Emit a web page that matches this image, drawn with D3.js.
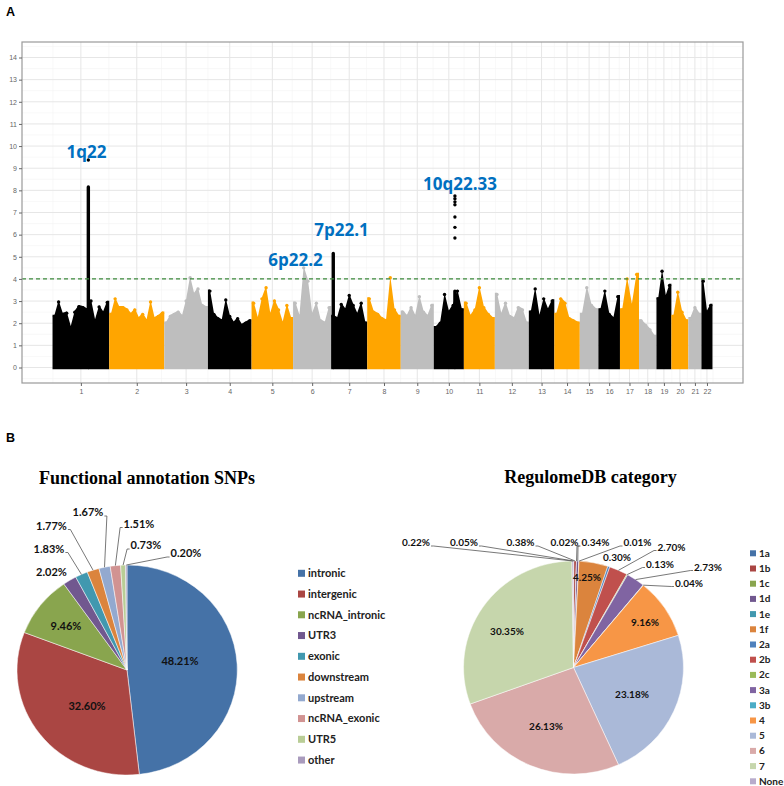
<!DOCTYPE html>
<html>
<head>
<meta charset="utf-8">
<script src="https://cdn.jsdelivr.net/npm/d3@7"></script>
<style>
body { margin: 0; background: #fff; }
svg { display: block; }
</style>
</head>
<body>
<script>
// ---------- A : manhattan plot ----------
var chrNames = ["1","2","3","4","5","6","7","8","9","10","11","12","13","14","15","16","17","18","19","20","21","22"];
// span of the SNPs on each chromosome (Mb)
var chrSpan = [247,240,190,190,181,166,157,146,144,131,135,148,111,111,81,94,83,76,65,74,57,48];
// highest -log10(p) in consecutive windows along each chromosome
var chrBinMax = [
  [2.3,2.96,2.4,2.45,1.8,2.5,2.75,2.7,2.6,3.0,2.1,2.73,2.46,2.94],
  [2.4,3.1,2.7,2.7,2.6,2.4,2.6,2.2,2.4,2.1,2.96,2.2,2.3,2.45],
  [2.0,2.3,2.4,2.5,2.3,3.0,4.05,3.3,3.55,2.8,2.7],
  [3.45,2.4,2.2,2.1,3.05,2.3,2.0,2.2,1.9,2.0,2.1],
  [2.9,2.2,3.1,3.6,2.4,3.0,2.6,2.0,2.8,2.2],
  [2.9,2.3,4.5,3.9,2.4,2.9,2.1,2.0,2.7],
  [2.3,2.2,2.85,2.6,3.25,2.8,2.4,2.9,2.0],
  [3.1,2.5,2.4,2.2,2.1,4.05,2.6,2.3],
  [2.5,2.3,2.7,2.3,3.2,2.5,2.3,2.8],
  [1.8,2.0,3.3,2.5,2.8,3.45,2.6],
  [2.9,2.3,2.6,3.6,2.7,2.4,2.2],
  [3.3,2.4,2.9,2.3,2.2,2.7,2.6,2.0],
  [2.5,3.55,2.3,3.1,2.6,3.0],
  [2.4,3.1,2.9,2.2,2.1,2.0],
  [2.4,3.6,2.8,2.6],
  [2.6,3.45,2.4,2.2,3.2],
  [2.6,4.0,2.8,4.2],
  [2.1,1.9,1.7,1.4],
  [3.1,4.35,3.2,3.7],
  [2.3,3.4,2.5,2.1],
  [2.2,2.7,2.4],
  [3.9,2.5,2.8]
];
// dense runs of SNPs at the associated loci (chr, position Mb, top value)
var peakColumns = [
  {chr: 1, pos: 156, top: 8.15},
  {chr: 7, pos: 9, top: 5.15},
  {chr: 10, pos: 92, top: 3.45}
];
// isolated SNPs above the runs
var peakPoints = [
  {chr: 1, pos: 156, p: 9.37},
  {chr: 10, pos: 92, p: 7.75},
  {chr: 10, pos: 92, p: 7.62},
  {chr: 10, pos: 92, p: 7.48},
  {chr: 10, pos: 92, p: 7.35},
  {chr: 10, pos: 92, p: 6.8},
  {chr: 10, pos: 92, p: 6.33},
  {chr: 10, pos: 92, p: 5.85}
];
var regionLabels = [
  {chr: 1, pos: 148, p: 9.44, text: "1q22"},
  {chr: 6, pos: 10.5, p: 4.58, text: "6p22.2"},
  {chr: 7, pos: 45, p: 5.92, text: "7p22.1"},
  {chr: 10, pos: 114, p: 8.02, text: "10q22.33"}
];
var yTicks = [0,1,2,3,4,5,6,7,8,9,10,11,12,13,14];
var threshold = 4;

// ---------- B : pie charts ----------
var funcCats = ["intronic","intergenic","ncRNA_intronic","UTR3","exonic","downstream","upstream","ncRNA_exonic","UTR5","other"];
var funcPct = [48.21,32.60,9.46,2.02,1.83,1.77,1.67,1.51,0.73,0.20];
var regCats = ["1a","1b","1c","1d","1e","1f","2a","2b","2c","3a","3b","4","5","6","7","None"];
var regPct = [0.05,0.38,0.02,0.34,0.01,4.25,0.30,2.70,0.13,2.73,0.04,9.16,23.18,26.13,30.35,0.22];

var funcColors = ["#4572A7","#AA4643","#89A54E","#71588F","#4198AF","#DB843D","#93A9CF","#D19392","#B9CD96","#A99BBD"];
var regColors = ["#4572A7","#AA4643","#89A54E","#71588F","#4198AF","#DB843D","#4F81BD","#C0504D","#9BBB59","#8064A2","#4BACC6","#F79646","#AAB9D8","#D9AAA9","#C6D6AC","#B8ACCC"];

// label placement (offset of the label centre from the pie centre)
var funcLabelPos = {
  intronic: [53,-9], intergenic: [-40,36], ncRNA_intronic: [-61,-44], UTR3: [-75.5,-97.5],
  exonic: [-78,-121], downstream: [-75.5,-144], upstream: [-39,-157.5],
  ncRNA_exonic: [12,-146], UTR5: [19,-124.5], other: [59,-116.5]
};
var funcLeaders = ["exonic","downstream","upstream","ncRNA_exonic","UTR5","other"];
var regLabelPos = {
  "None": [-157.5,-125], "1a": [-109.5,-125], "1b": [-53,-125], "1c": [-9,-125], "1d": [22,-125],
  "1e": [64,-125], "1f": [13.5,-90.5], "2a": [43.5,-110.5], "2b": [98,-120.5], "2c": [86.5,-103.5],
  "3a": [134.5,-100.5], "3b": [115.5,-84.5], "4": [71.5,-45.5], "5": [58.5,26.5], "6": [-27.5,58.5],
  "7": [-66.5,-36.5]
};
var regLeaders = ["None","1a","1b","1c","1d","1e","2b","2c","3a","3b"];

var svg = d3.select("body").append("svg")
    .attr("width", 784)
    .attr("height", 786);

// ----- manhattan -----
var panel = {x0: 22, x1: 743, y0: 42, y1: 383};
var chrStart = [], acc = 0;
chrSpan.forEach(function(s) { chrStart.push(acc); acc += s; });
var pad = 133;
var x = d3.scaleLinear().domain([-pad, acc + pad]).range([panel.x0, panel.x1]);
var y = d3.scaleLinear().domain([-0.7, 14.7]).range([panel.y1, panel.y0]);
var chrMid = chrSpan.map(function(s, i) { return chrStart[i] + s / 2; });
var chrColors = ["#000000", "#FFA500", "#BEBEBE"];
var r = 1.7;

svg.append("rect")
    .attr("x", panel.x0).attr("y", panel.y0)
    .attr("width", panel.x1 - panel.x0).attr("height", panel.y1 - panel.y0)
    .attr("fill", "#fff");

var grid = svg.append("g");
var minorY = d3.range(-0.5, 15, 1);
grid.selectAll(".hmin").data(minorY).join("line")
    .attr("x1", panel.x0).attr("x2", panel.x1)
    .attr("y1", function(d) { return y(d); }).attr("y2", function(d) { return y(d); })
    .attr("stroke", "#f3f3f3").attr("stroke-width", 0.6);
var minorX = [];
chrMid.forEach(function(m, i) {
  if (i > 0) minorX.push((chrMid[i - 1] + m) / 2);
});
minorX.unshift(chrMid[0] - (chrMid[1] - chrMid[0]) / 2);
minorX.push(chrMid[21] + (chrMid[21] - chrMid[20]) / 2);
grid.selectAll(".vmin").data(minorX.filter(function(d) { return x(d) > panel.x0 && x(d) < panel.x1; })).join("line")
    .attr("y1", panel.y0).attr("y2", panel.y1)
    .attr("x1", function(d) { return x(d); }).attr("x2", function(d) { return x(d); })
    .attr("stroke", "#f3f3f3").attr("stroke-width", 0.6);
grid.selectAll(".hmaj").data(yTicks).join("line")
    .attr("x1", panel.x0).attr("x2", panel.x1)
    .attr("y1", function(d) { return y(d); }).attr("y2", function(d) { return y(d); })
    .attr("stroke", "#e6e6e6").attr("stroke-width", 1);
grid.selectAll(".vmaj").data(chrMid).join("line")
    .attr("y1", panel.y0).attr("y2", panel.y1)
    .attr("x1", function(d) { return x(d); }).attr("x2", function(d) { return x(d); })
    .attr("stroke", "#e6e6e6").attr("stroke-width", 1);

// bulk of the SNPs, one silhouette per chromosome
var area = d3.area()
    .x(function(d) { return x(d.pos); })
    .y0(y(0) + r)
    .y1(function(d) { return y(d.v) - r; });

var marks = svg.append("g");
chrBinMax.forEach(function(arr, i) {
  var w = chrSpan[i] / arr.length;
  var pts = [{pos: chrStart[i], v: arr[0]}];
  arr.forEach(function(v, j) { pts.push({pos: chrStart[i] + (j + 0.5) * w, v: v}); });
  pts.push({pos: chrStart[i] + chrSpan[i], v: arr[arr.length - 1]});
  marks.append("path")
      .attr("d", area(pts))
      .attr("fill", chrColors[i % 3]);
  marks.selectAll(".top" + i).data(pts.slice(1, -1)).join("circle")
      .attr("cx", function(d) { return x(d.pos); })
      .attr("cy", function(d) { return y(d.v); })
      .attr("r", r)
      .attr("fill", chrColors[i % 3]);
});

marks.selectAll(".col").data(peakColumns).join("rect")
    .attr("x", function(d) { return x(chrStart[d.chr - 1] + d.pos) - r; })
    .attr("width", 2 * r)
    .attr("y", function(d) { return y(d.top) - r; })
    .attr("height", function(d) { return y(0) - y(d.top) + 2 * r; })
    .attr("rx", r)
    .attr("fill", function(d) { return chrColors[(d.chr - 1) % 3]; });

marks.selectAll(".pt").data(peakPoints).join("circle")
    .attr("cx", function(d) { return x(chrStart[d.chr - 1] + d.pos); })
    .attr("cy", function(d) { return y(d.p); })
    .attr("r", r)
    .attr("fill", function(d) { return chrColors[(d.chr - 1) % 3]; });

svg.append("line")
    .attr("x1", panel.x0).attr("x2", panel.x1)
    .attr("y1", y(threshold)).attr("y2", y(threshold))
    .attr("stroke", "#3d8b3d").attr("stroke-width", 1.2)
    .attr("stroke-dasharray", "4,3");

svg.append("g").selectAll("text").data(regionLabels).join("text")
    .attr("x", function(d) { return x(chrStart[d.chr - 1] + d.pos); })
    .attr("y", function(d) { return y(d.p); })
    .attr("text-anchor", "middle")
    .attr("font-family", "Open Sans")
    .attr("font-weight", "bold")
    .attr("font-size", 17)
    .attr("fill", "#0070C0")
    .text(function(d) { return d.text; });

svg.append("rect")
    .attr("x", panel.x0).attr("y", panel.y0)
    .attr("width", panel.x1 - panel.x0).attr("height", panel.y1 - panel.y0)
    .attr("fill", "none").attr("stroke", "#9a9a9a").attr("stroke-width", 1.2);

var yAxis = svg.append("g")
    .attr("transform", "translate(" + panel.x0 + ",0)")
    .call(d3.axisLeft(y).tickValues(yTicks).tickSize(3).tickPadding(2));
var xAxis = svg.append("g")
    .attr("transform", "translate(0," + panel.y1 + ")")
    .call(d3.axisBottom(x).tickValues(chrMid).tickSize(3).tickPadding(3)
      .tickFormat(function(d, i) { return chrNames[i]; }));
[yAxis, xAxis].forEach(function(a) {
  a.select(".domain").remove();
  a.selectAll(".tick line").attr("stroke", "#666");
  a.selectAll(".tick text").attr("fill", "#666")
      .attr("font-family", "Liberation Sans").attr("font-size", 7);
});

svg.append("text").attr("x", 6).attr("y", 16)
    .attr("font-family", "Liberation Sans").attr("font-weight", "bold").attr("font-size", 12.5)
    .text("A");
svg.append("text").attr("x", 6).attr("y", 442)
    .attr("font-family", "Liberation Sans").attr("font-weight", "bold").attr("font-size", 12.5)
    .text("B");

// ----- pies -----
function drawPie(o) {
  var arcs = d3.pie().sort(null).value(function(d) { return d; })(o.pct);
  var arc = d3.arc().innerRadius(0).outerRadius(1);
  var g = svg.append("g")
      .attr("transform", "translate(" + o.cx + "," + o.cy + ") scale(" + o.rx + "," + o.ry + ")");
  g.selectAll("path").data(arcs).join("path")
      .attr("d", arc)
      .attr("fill", function(d, i) { return o.colors[i]; })
      .attr("stroke", "#fff")
      .attr("stroke-width", 0.5)
      .attr("vector-effect", "non-scaling-stroke");

  var lab = svg.append("g");
  arcs.forEach(function(a, i) {
    var cat = o.cats[i], p = o.layout[cat];
    var tx = o.cx + p[0], ty = o.cy + p[1];
    var t = lab.append("text")
        .attr("x", tx).attr("y", ty).attr("dy", "0.35em")
        .attr("text-anchor", "middle")
        .attr("font-family", "Lato").attr("font-weight", "bold")
        .attr("font-size", o.fontSize).attr("fill", "#111")
        .text(o.pct[i].toFixed(2) + "%");
    if (o.leaders.indexOf(cat) < 0) return;
    var w = t.node().getComputedTextLength();
    var th = (a.startAngle + a.endAngle) / 2;
    var rx = o.cx + o.rx * Math.sin(th), ry = o.cy - o.ry * Math.cos(th);
    var ax = tx < rx ? tx + w / 2 + 1 : tx - w / 2 - 1;
    var ay = ty + 3.5;
    var sx = ax + (rx > ax ? 2.5 : -2.5);
    lab.append("polyline")
        .attr("points", [[ax, ay], [sx, ay], [rx, ry]].map(function(q) { return q.join(","); }).join(" "))
        .attr("fill", "none").attr("stroke", "#555").attr("stroke-width", 0.8);
  });
}

function drawLegend(cats, colors, x0, y0, step, size, fontSize) {
  var g = svg.append("g");
  cats.forEach(function(c, i) {
    var cy = y0 + i * step;
    g.append("rect").attr("x", x0).attr("y", cy - size / 2)
        .attr("width", size).attr("height", size).attr("fill", colors[i]);
    g.append("text").attr("x", x0 + size + 3).attr("y", cy).attr("dy", "0.35em")
        .attr("font-family", "Lato").attr("font-weight", "bold")
        .attr("font-size", fontSize).attr("fill", "#222")
        .text(c);
  });
}

drawPie({cats: funcCats, pct: funcPct, colors: funcColors, cx: 127, cy: 670, rx: 110, ry: 105,
  layout: funcLabelPos, leaders: funcLeaders, fontSize: 11});
drawPie({cats: regCats, pct: regPct, colors: regColors, cx: 573.5, cy: 667.5, rx: 110, ry: 106.5,
  layout: regLabelPos, leaders: regLeaders, fontSize: 10});

drawLegend(funcCats, funcColors, 298, 573.3, 20.75, 7, 11);
drawLegend(regCats, regColors, 750, 553.3, 15.2, 6, 10);

svg.append("text").attr("x", 147).attr("y", 484).attr("text-anchor", "middle")
    .attr("font-family", "Liberation Serif").attr("font-weight", "bold").attr("font-size", 18)
    .text("Functional annotation SNPs");
svg.append("text").attr("x", 590.5).attr("y", 483).attr("text-anchor", "middle")
    .attr("font-family", "Liberation Serif").attr("font-weight", "bold").attr("font-size", 18)
    .text("RegulomeDB category");
</script>
</body>
</html>
